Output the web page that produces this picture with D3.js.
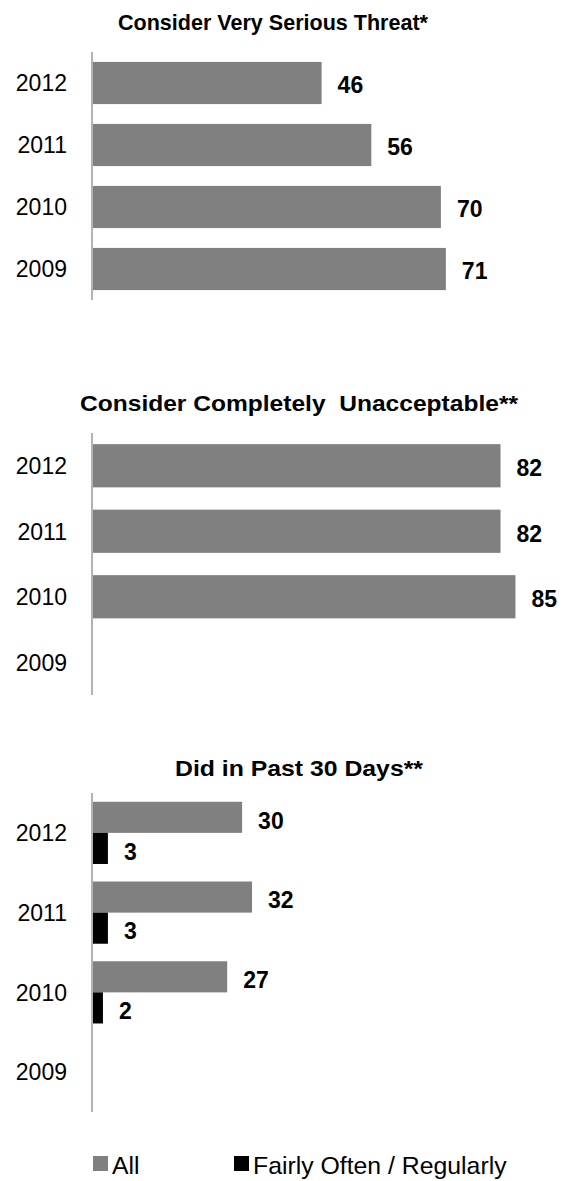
<!DOCTYPE html>
<html>
<head>
<meta charset="utf-8">
<script src="https://cdn.jsdelivr.net/npm/d3@7"></script>
<style>
  html, body { margin: 0; padding: 0; background: #fff; }
  svg { display: block; }
  text { font-family: "Liberation Sans", Arial, sans-serif; }
</style>
</head>
<body>
<svg id="chart" width="569" height="1181"></svg>
<script>
// Survey results by year (top to bottom: 2012 .. 2009)
const years = ["2012", "2011", "2010", "2009"];
const threatValues = [46, 56, 70, 71];              // Consider very serious threat
const unacceptableValues = [82, 82, 85, null];      // Consider completely unacceptable
const pastAllValues = [30, 32, 27, null];           // Did in past 30 days: all
const pastRegularValues = [3, 3, 2, null];          // Did in past 30 days: fairly often / regularly
const seriesNames = ["All", "Fairly Often / Regularly"];
const titles = [
  "Consider Very Serious Threat*",
  "Consider Completely  Unacceptable**",
  "Did in Past 30 Days**"
];

const GRAY = "#808080";
const BLACK = "#000000";
const svg = d3.select("#chart");

// shared horizontal value scale
const x = d3.scaleLinear().domain([0, 100]).range([93, 590]);
const axisX = 92;

function yearLabels(g, y) {
  g.selectAll("text.year")
    .data(years)
    .join("text")
    .attr("class", "year")
    .attr("x", 67)
    .attr("y", d => y(d) + y.bandwidth() / 2)
    .attr("dy", "0.36em")
    .attr("text-anchor", "end")
    .attr("font-size", 23)
    .attr("fill", "#000")
    .text(d => d);
}

function axisLine(g, top, bottom) {
  g.append("line")
    .attr("x1", axisX).attr("x2", axisX)
    .attr("y1", top).attr("y2", bottom)
    .attr("stroke", "#9a9a9a")
    .attr("stroke-width", 1.5);
}

// title placed by its left edge and stretched to a set width
function title(g, text, left, width, baseline) {
  g.append("text")
    .attr("x", left)
    .attr("y", baseline)
    .attr("font-size", 22)
    .attr("font-weight", "bold")
    .attr("textLength", width)
    .attr("lengthAdjust", "spacingAndGlyphs")
    .style("white-space", "pre")
    .text(text);
}

function valueLabel(g, rows, yPos) {
  g.selectAll(null)
    .data(rows)
    .join("text")
    .attr("x", d => x(d.v) + 16)
    .attr("y", yPos)
    .attr("dy", "0.36em")
    .attr("font-size", 23)
    .attr("font-weight", "bold")
    .text(d => d.v);
}

// single-series panel
function simplePanel(values, titleText, tLeft, tWidth, titleBase, top, bottom, padIn, padOut) {
  const g = svg.append("g");
  const y = d3.scaleBand().domain(years).range([top, bottom])
    .paddingInner(padIn).paddingOuter(padOut);
  const rows = years.map((yr, i) => ({ yr, v: values[i] })).filter(d => d.v != null);

  title(g, titleText, tLeft, tWidth, titleBase);
  g.selectAll("rect")
    .data(rows)
    .join("rect")
    .attr("x", x(0))
    .attr("y", d => y(d.yr))
    .attr("width", d => x(d.v) - x(0))
    .attr("height", y.bandwidth())
    .attr("fill", GRAY);
  valueLabel(g, rows, d => y(d.yr) + y.bandwidth() / 2 + 2);
  axisLine(g, top, bottom);
  yearLabels(g, y);
}

simplePanel(threatValues, titles[0], 118, 310, 30, 52, 300, 0.32, 0.16);
simplePanel(unacceptableValues, titles[1], 80, 438, 411, 433, 695, 0.34, 0.17);

// grouped panel
(function () {
  const top = 793, bottom = 1112;
  const g = svg.append("g");
  const y = d3.scaleBand().domain(years).range([top, bottom])
    .paddingInner(0.22).paddingOuter(0.11);
  const sub = d3.scaleBand().domain(seriesNames).range([0, y.bandwidth()]);
  const color = d3.scaleOrdinal().domain(seriesNames).range([GRAY, BLACK]);

  const rows = [];
  years.forEach((yr, i) => {
    if (pastAllValues[i] != null) rows.push({ yr, s: seriesNames[0], v: pastAllValues[i] });
    if (pastRegularValues[i] != null) rows.push({ yr, s: seriesNames[1], v: pastRegularValues[i] });
  });

  title(g, titles[2], 175, 248, 776);
  g.selectAll("rect")
    .data(rows)
    .join("rect")
    .attr("x", x(0))
    .attr("y", d => y(d.yr) + sub(d.s))
    .attr("width", d => x(d.v) - x(0))
    .attr("height", sub.bandwidth())
    .attr("fill", d => color(d.s));
  valueLabel(g, rows, d => y(d.yr) + sub(d.s) + sub.bandwidth() / 2 + 3);
  axisLine(g, top, bottom);
  yearLabels(g, y);

  // legend
  const legendX = [93, 234];
  const lg = svg.append("g");
  seriesNames.forEach((name, i) => {
    lg.append("rect")
      .attr("x", legendX[i]).attr("y", 1156)
      .attr("width", 15).attr("height", 15)
      .attr("fill", color(name));
    lg.append("text")
      .attr("x", legendX[i] + 19).attr("y", 1174)
      .attr("font-size", 24.8)
      .text(name);
  });
})();
</script>
</body>
</html>
